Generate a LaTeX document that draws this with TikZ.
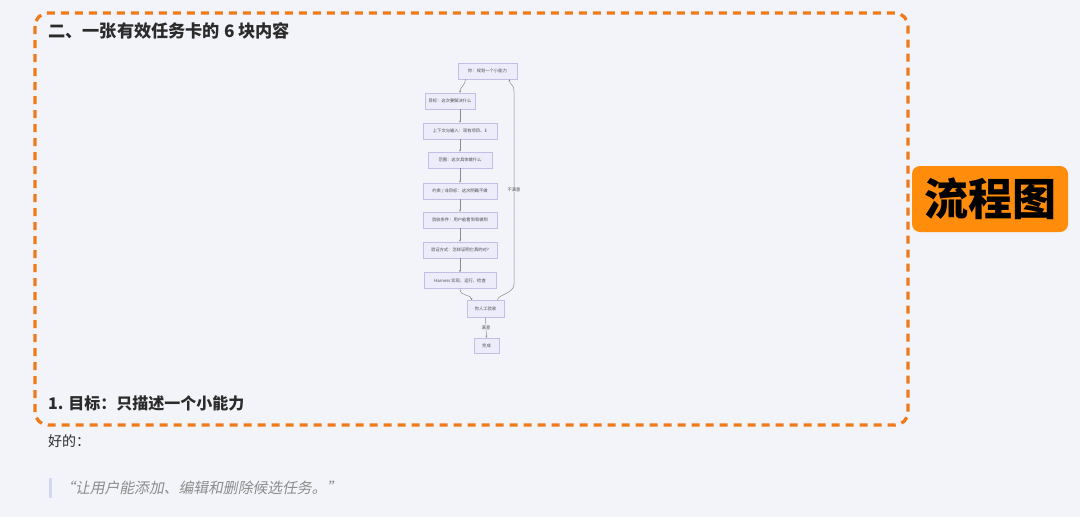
\documentclass[tikz,border=0pt]{standalone}
\usepackage{fontspec}
\setmainfont{Noto Sans CJK SC}
\newfontfamily\cjkit[FakeSlant=0.2]{Noto Sans CJK SC}
\usetikzlibrary{arrows.meta}
\definecolor{bgc}{HTML}{F3F4F9}
\definecolor{dashor}{HTML}{F07A1A}
\definecolor{tagor}{HTML}{FF8C0A}
\definecolor{nfill}{HTML}{ECECFB}
\definecolor{ndraw}{HTML}{C4BEE6}
\definecolor{arr}{HTML}{8A8A8A}
\definecolor{quotebar}{HTML}{D3D6F2}
\definecolor{quotetxt}{HTML}{8C8C8C}
\definecolor{titletxt}{HTML}{2B2B2B}
\tikzset{
  fnode/.style={draw=ndraw, line width=0.5pt, fill=nfill, inner sep=0pt, minimum height=16pt, font=\fontsize{4.3}{5}\selectfont, text=black!70},
  farrow/.style={draw=arr, line width=0.5pt, -{Stealth[length=2.2pt,width=2pt]}},
  flabel/.style={font=\fontsize{4.3}{5}\selectfont, text=black!70, fill=bgc, inner sep=0.5pt}
}
\begin{document}
\begin{tikzpicture}[x=1pt,y=-1pt]
\path[use as bounding box, fill=bgc] (0,0) rectangle (1080,517);
% dashed frame
\draw[dashor, line width=3.3pt, dash pattern=on 8pt off 6pt, rounded corners=13pt] (35,13) rectangle (908,425);
% titles
\node[anchor=west, inner sep=0pt, text=titletxt, font=\fontsize{17.2}{20}\selectfont\bfseries] (title) at (48,31) {二、一张有效任务卡的 6 块内容};
\node[anchor=west, inner sep=0pt, text=titletxt, font=\fontsize{16}{20}\selectfont\bfseries] (goal) at (48,403) {1. 目标：只描述一个小能力};
\node[anchor=west, inner sep=0pt, text=titletxt, font=\fontsize{14}{17}\selectfont] (good) at (48,441) {好的：};
\fill[quotebar] (49,478) rectangle (52,498);
\node[anchor=west, inner sep=0pt, text=quotetxt, font=\fontsize{14.8}{17}\selectfont\cjkit] (quote) at (60,488) {“让用户能添加、编辑和删除候选任务。”};
% tag
\node[fill=tagor, rounded corners=8pt, minimum width=156pt, minimum height=66pt, inner sep=0pt, font=\fontsize{44}{50}\selectfont\bfseries, text=black] (tag) at (990,199) {流程图};
% flowchart
\node[fnode, minimum width=59pt] (n0) at (487.5,71) {你：规划一个小能力};
\node[fnode, minimum width=50pt] (n1) at (450,101) {目标：这次要解决什么};
\node[fnode, minimum width=74pt] (n2) at (460,131) {上下文与输入：现有项目、E};
\node[fnode, minimum width=64pt] (n3) at (460,160) {范围：这次具体做什么};
\node[fnode, minimum width=74pt] (n4) at (460,191) {约束 / 非目标：这次明确不做};
\node[fnode, minimum width=74pt] (n5) at (460,220) {验收条件：用户能看到和做到};
\node[fnode, minimum width=74pt] (n6) at (460,250) {验证方式：怎样证明它真的对?};
\node[fnode, minimum width=72pt] (n7) at (460,280.5) {Harness 实现、运行、检查};
\node[fnode, minimum width=37pt, minimum height=17pt] (n8) at (485.5,309) {你人工验收};
\node[fnode, minimum width=25pt, minimum height=15pt] (n9) at (486.5,345.5) {完成};
\draw[farrow] ([xshift=-22pt]n0.south) .. controls +(0,6) and +(0,-6) .. (n1.north -| 460,0);
\draw[farrow] (n1.south -| 460,0) -- (n2.north);
\draw[farrow] (n2) -- (n3);
\draw[farrow] (n3) -- (n4);
\draw[farrow] (n4) -- (n5);
\draw[farrow] (n5) -- (n6);
\draw[farrow] (n6) -- (n7);
\draw[farrow] (n7.south) .. controls +(0,8) and +(0,-6) .. ([xshift=-14pt]n8.north);
\draw[farrow] (n8.south) -- node[flabel] (lok) {满意} (n9.north);
\coordinate (lp1) at (514,284);
\coordinate (lp2) at (514,92);
\draw[farrow] ([xshift=12pt]n8.north) .. controls +(0,-6) and +(0,10) .. (lp1) -- (lp2) .. controls +(0,-9) and +(0,6) .. ([xshift=22pt]n0.south);
\node[flabel] (lno) at (514,190) {不满意};
\end{tikzpicture}
\end{document}
